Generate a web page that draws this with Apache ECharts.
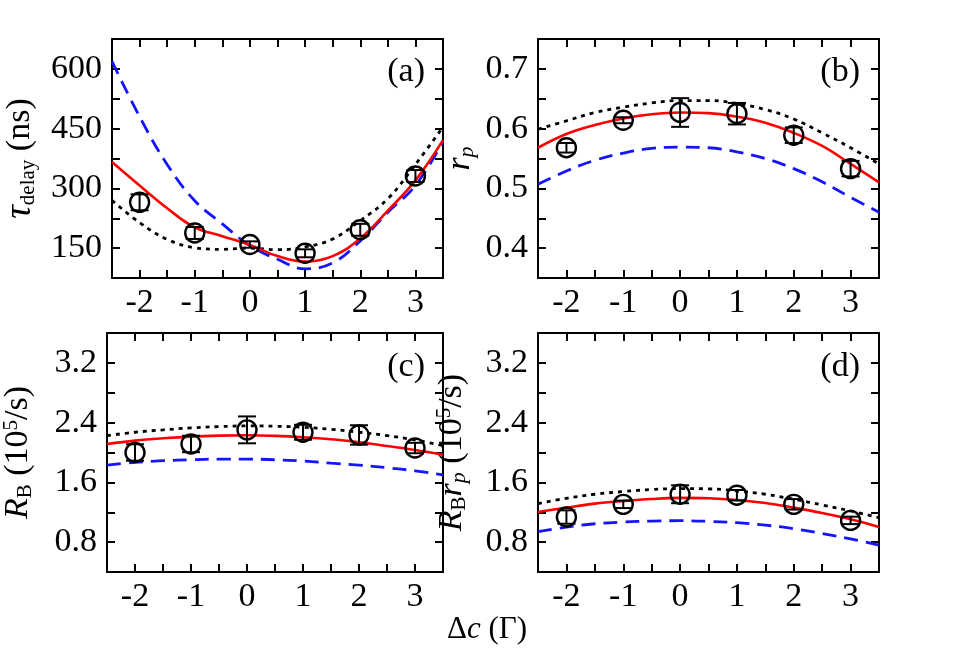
<!DOCTYPE html>
<html><head><meta charset="utf-8">
<script src="https://cdn.jsdelivr.net/npm/echarts@6/dist/echarts.min.js"></script>
<style>html,body{margin:0;padding:0;background:#fff}#c{width:959px;height:656px}</style>
</head><body><div id="c"></div>
<script>
// ---- data ----
const xPts = [-2, -1, 0, 1, 2, 3];
const xFit = [-2.5, -2, -1.5, -1, -0.5, 0, 0.5, 1, 1.5, 2, 2.5, 3, 3.5];

// (a) tau_delay (ns)
const tauVal = [265, 188, 159, 137, 196, 331];
const tauErr = [20, 15, 8, 10, 15, 15];
const tauRed = [366, 307, 250, 202, 180, 158, 130, 116, 130, 174, 244, 320, 421];
const tauBlue = [619, 480, 360, 269, 211, 156, 122, 98, 113, 168, 240, 307, 418];
const tauBlack = [270, 214, 172, 151, 147, 150, 146, 153, 173, 219, 274, 360, 454];

// (b) r_p
const rpVal = [0.568, 0.614, 0.627, 0.625, 0.589, 0.533];
const rpErr = [0.008, 0.005, 0.024, 0.018, 0.013, 0.013];
const rpRed = [0.568, 0.591, 0.606, 0.617, 0.624, 0.627, 0.626, 0.620, 0.610, 0.593, 0.571, 0.541, 0.510];
const rpBlue = [0.507, 0.529, 0.547, 0.559, 0.567, 0.569, 0.568, 0.561, 0.550, 0.533, 0.511, 0.485, 0.460];
const rpBlack = [0.599, 0.613, 0.627, 0.636, 0.643, 0.647, 0.647, 0.642, 0.632, 0.616, 0.593, 0.568, 0.541];

// (c) R_B (10^5/s)
const rbVal = [2.00, 2.114, 2.303, 2.271, 2.235, 2.06];
const rbErr = [0.11, 0.11, 0.18, 0.10, 0.13, 0.07];
const rbRed = [2.114, 2.159, 2.19, 2.213, 2.226, 2.231, 2.222, 2.204, 2.177, 2.137, 2.087, 2.033, 1.971];
const rbBlue = [1.831, 1.867, 1.89, 1.903, 1.912, 1.912, 1.903, 1.885, 1.858, 1.831, 1.796, 1.755, 1.701];
const rbBlack = [2.226, 2.271, 2.303, 2.33, 2.347, 2.356, 2.352, 2.338, 2.311, 2.271, 2.226, 2.168, 2.092];

// (d) R_B r_p (10^5/s)
const rbrpVal = [1.136, 1.306, 1.441, 1.428, 1.306, 1.091];
const rbrpErr = [0.09, 0.05, 0.12, 0.07, 0.07, 0.05];
const rbrpRed = [1.203, 1.262, 1.316, 1.351, 1.378, 1.392, 1.387, 1.365, 1.325, 1.262, 1.190, 1.105, 1.001];
const rbrpBlue = [0.939, 1.001, 1.046, 1.069, 1.082, 1.087, 1.078, 1.06, 1.028, 0.979, 0.916, 0.844, 0.759];
const rbrpBlack = [1.316, 1.387, 1.441, 1.477, 1.504, 1.517, 1.513, 1.486, 1.441, 1.374, 1.298, 1.217, 1.127];

const panelLabels = ['(a)', '(b)', '(c)', '(d)'];

// ---- build ----
const FF = 'Liberation Serif';
const FS = 34;
const grids = [
  {left: 102, top: 39, width: 341, height: 239},
  {left: 538, top: 39, width: 341, height: 239},
  {left: 102, top: 333, width: 341, height: 239},
  {left: 538, top: 333, width: 341, height: 239}
];
const yCfg = [
  {min: 75, max: 675, interval: 75, fmt: v => (v % 150 === 0 ? String(v) : '')},
  {min: 0.35, max: 0.75, interval: 0.05, fmt: v => (Math.abs(v * 10 - Math.round(v * 10)) < 1e-6 ? v.toFixed(1) : '')},
  {min: 0.4, max: 3.6, interval: 0.4, fmt: v => (Math.round(v / 0.4) % 2 === 0 ? v.toFixed(1) : '')},
  {min: 0.4, max: 3.6, interval: 0.4, fmt: v => (Math.round(v / 0.4) % 2 === 0 ? v.toFixed(1) : '')}
];
const richBase = {
  i: {fontFamily: FF, fontSize: 34, fontStyle: 'italic', color: '#000'},
  s: {fontFamily: FF, fontSize: 21, color: '#000', verticalAlign: 'bottom', padding: [14, 0, 0, 0]},
  si: {fontFamily: FF, fontSize: 22, fontStyle: 'italic', color: '#000', verticalAlign: 'bottom', padding: [14, 0, 0, 0]},
  p: {fontFamily: FF, fontSize: 21, color: '#000', verticalAlign: 'top', padding: [0, 0, 14, 0]},
  t: {fontFamily: FF, fontSize: 38, fontStyle: 'italic', color: '#000'}
};
const yNames = [
  '{t|τ}{s|delay} (ns)',
  '{i|r}{si|p}',
  '{i|R}{s|B} (10{p|5}/s)',
  '{i|R}{s|B}{i|r}{si|p} (10{p|5}/s)'
];
const yNameGap = [73, 60, 71, 68];

const lineStyle = {color: '#000', width: 2};
const tickStyle = {inside: true, length: 8, lineStyle: {color: '#000', width: 2}};
const xAxes = [], yAxes = [];
grids.forEach((g, k) => {
  xAxes.push({
    type: 'value', gridIndex: k, min: -2.5, max: 3.5, interval: 0.5, position: 'bottom',
    axisLine: {show: true, onZero: false, lineStyle}, axisTick: tickStyle, splitLine: {show: false},
    axisLabel: {fontFamily: FF, fontSize: FS, color: '#000', margin: 8,
      formatter: v => (Math.abs(v - Math.round(v)) < 1e-6 && v > -2.5 && v < 3.5 ? String(Math.round(v)) : '')}
  });
  xAxes.push({
    type: 'value', gridIndex: k, min: -2.5, max: 3.5, interval: 0.5, position: 'top',
    axisLine: {show: true, onZero: false, lineStyle}, axisTick: tickStyle, splitLine: {show: false},
    axisLabel: {show: false}
  });
  const c = yCfg[k];
  yAxes.push({
    type: 'value', gridIndex: k, min: c.min, max: c.max, interval: c.interval, position: 'left',
    axisLine: {show: true, onZero: false, lineStyle}, axisTick: tickStyle, splitLine: {show: false},
    axisLabel: {fontFamily: FF, fontSize: FS, color: '#000', margin: 10, formatter: c.fmt},
    name: yNames[k], nameLocation: 'middle', nameGap: yNameGap[k], nameRotate: 90,
    nameTextStyle: {fontFamily: FF, fontSize: 34, color: '#000', rich: richBase}
  });
  yAxes.push({
    type: 'value', gridIndex: k, min: c.min, max: c.max, interval: c.interval, position: 'right',
    axisLine: {show: true, onZero: false, lineStyle}, axisTick: tickStyle, splitLine: {show: false},
    axisLabel: {show: false}
  });
});

function pairs(xs, ys) { return xs.map((x, i) => [x, ys[i]]); }
function errRender(params, api) {
  const x = api.value(0), y = api.value(1), e = api.value(2);
  const t = api.coord([x, y + e]), b = api.coord([x, y - e]);
  const w = 9;
  const st = {stroke: '#000', lineWidth: 2};
  return {type: 'group', children: [
    {type: 'line', shape: {x1: t[0], y1: t[1], x2: b[0], y2: b[1]}, style: st},
    {type: 'line', shape: {x1: t[0] - w, y1: t[1], x2: t[0] + w, y2: t[1]}, style: st},
    {type: 'line', shape: {x1: b[0] - w, y1: b[1], x2: b[0] + w, y2: b[1]}, style: st}
  ]};
}
const panels = [
  [tauVal, tauErr, tauRed, tauBlue, tauBlack],
  [rpVal, rpErr, rpRed, rpBlue, rpBlack],
  [rbVal, rbErr, rbRed, rbBlue, rbBlack],
  [rbrpVal, rbrpErr, rbrpRed, rbrpBlue, rbrpBlack]
];
const series = [];
panels.forEach((p, k) => {
  const xi = 2 * k, yi = 2 * k;
  const [val, err, red, blue, black] = p;
  series.push({type: 'line', xAxisIndex: xi, yAxisIndex: yi, data: pairs(xFit, blue), smooth: 0.4,
    showSymbol: false, lineStyle: {color: '#1414ff', width: 2.8, type: [14, 8]}, z: 2, silent: true});
  series.push({type: 'line', xAxisIndex: xi, yAxisIndex: yi, data: pairs(xFit, black), smooth: 0.4,
    showSymbol: false, lineStyle: {color: '#000', width: 2.8, type: [4, 5]}, z: 2, silent: true});
  series.push({type: 'line', xAxisIndex: xi, yAxisIndex: yi, data: pairs(xFit, red), smooth: 0.4,
    showSymbol: false, lineStyle: {color: '#ff0000', width: 2.6}, z: 3, silent: true});
  series.push({type: 'custom', xAxisIndex: xi, yAxisIndex: yi, renderItem: errRender,
    data: xPts.map((x, i) => [x, val[i], err[i]]), z: 4, silent: true});
  series.push({type: 'scatter', xAxisIndex: xi, yAxisIndex: yi, data: pairs(xPts, val),
    symbol: 'circle', symbolSize: 19,
    itemStyle: {color: 'rgba(0,0,0,0)', borderColor: '#000', borderWidth: 2.4, opacity: 1}, z: 5, silent: true});
});

const titles = [
  {text: panelLabels[0], right: 534, top: 55},
  {text: panelLabels[1], right: 99, top: 55},
  {text: panelLabels[2], right: 534, top: 350},
  {text: panelLabels[3], right: 99, top: 350}
].map(t => Object.assign(t, {padding: 0, textStyle: {fontFamily: FF, fontSize: 34, fontWeight: 'normal', color: '#000'}}));
titles.push({
  text: '{n|Δ}{c|c}{n| (Γ)}', left: 447, top: 614, padding: 0,
  textStyle: {fontWeight: 'normal', rich: {
    n: {fontFamily: FF, fontSize: 31, fontWeight: 'normal', color: '#000'},
    c: {fontFamily: FF, fontSize: 31, fontStyle: 'italic', fontWeight: 'normal', color: '#000'}
  }}
});

const chart = echarts.init(document.getElementById('c'), null, {renderer: 'canvas'});
chart.setOption({
  animation: false,
  backgroundColor: '#fff',
  title: titles,
  grid: grids,
  xAxis: xAxes,
  yAxis: yAxes,
  series: series
});
</script></body></html>
